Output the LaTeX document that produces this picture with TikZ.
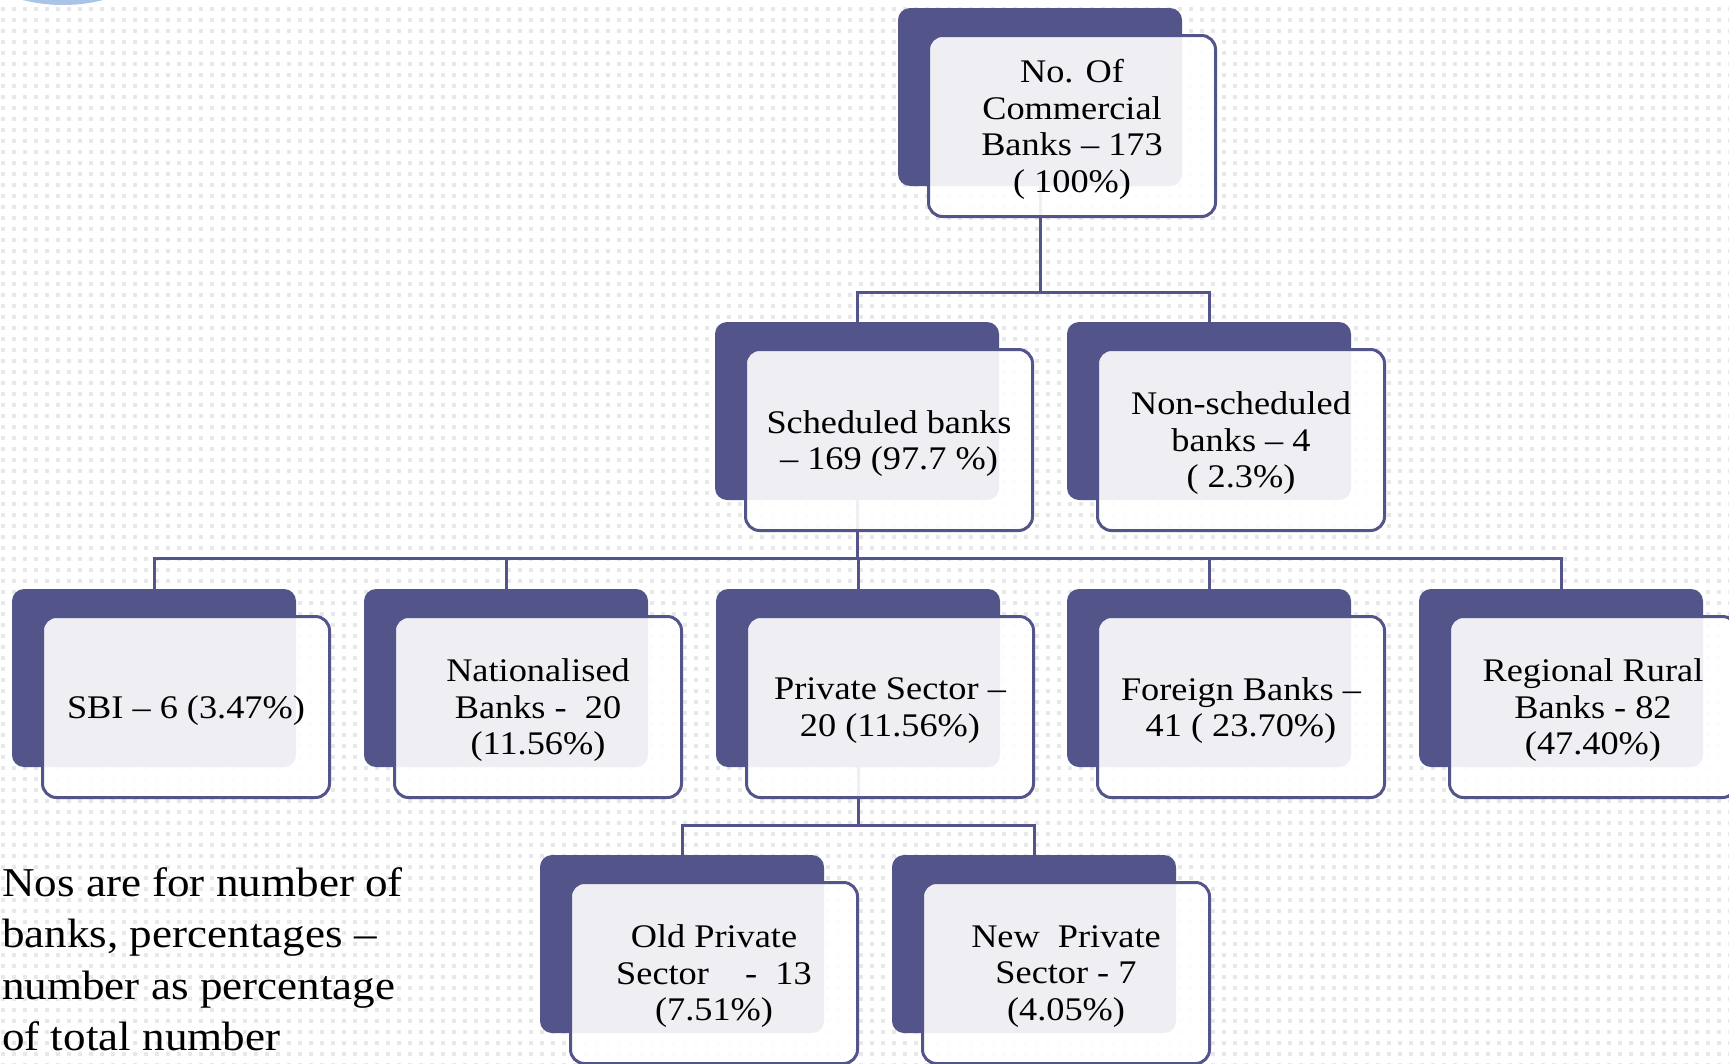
\documentclass[tikz,border=0pt]{standalone}
\usepackage{fontspec}
\setmainfont{Liberation Serif}[FakeStretch=1.1]
\usetikzlibrary{calc}
\definecolor{dk}{RGB}{83,84,138}
\definecolor{dotgray}{RGB}{232,232,232}
\definecolor{orb}{RGB}{170,196,230}
\pgfdeclarelayer{bg}
\pgfsetlayers{bg,main}

% one bank: shaded back plate, the framed card in front of it, and its label
\newcommand\bankbox[4]{%
  \node[backplate] (#1B) at (#2+142,#3+89) {};
  \node[card] (#1F) at (#2+174,#3+118) {};
  \node[cardtext] (#1) at ($(#1F.center)+(0,3.5)$) {#4};}

\begin{document}
\begin{tikzpicture}[x=1pt,y=-1pt,
  backplate/.style={fill=dk, rounded corners=12pt, minimum width=284pt,
    minimum height=178pt, inner sep=0pt},
  card/.style={draw=dk, line width=3pt, fill=white, fill opacity=0.9,
    rounded corners=14pt, minimum width=287pt, minimum height=181pt,
    inner sep=0pt},
  cardtext/.style={align=center, inner sep=0pt,
    font=\fontsize{33}{36.5}\selectfont},
  conn/.style={draw=dk, line width=3pt},
  note/.style={align=left, anchor=north west, inner sep=0pt,
    font=\fontsize{41}{51.5}\selectfont}]

\useasboundingbox (0,0) rectangle (1729,1063);

\begin{pgfonlayer}{bg}
  % dotted paper background
  \fill[white] (0,0) rectangle (1729,1063);
  \foreach \r in {0,...,96}
    \draw[dotgray, line width=4pt, dash pattern=on 4pt off 7pt]
      (1,9+11*\r) -- (1729,9+11*\r);
  % corner ornament
  \fill[orb] (63,-157) circle (162pt);
\end{pgfonlayer}

% level 1
\bankbox{top}{898}{8}{No. Of\\Commercial\\Banks – 173\\( 100\%)}
% level 2
\bankbox{sch}{715}{322}{Scheduled banks\\– 169 (97.7 \%)}
\bankbox{nsch}{1067}{322}{Non-scheduled\\banks – 4\\( 2.3\%)}
% level 3
\bankbox{sbi}{12}{589}{SBI – 6 (3.47\%)}
\bankbox{nat}{364}{589}{Nationalised\\Banks -~ 20\\(11.56\%)}
\bankbox{pvt}{716}{589}{Private Sector –\\20 (11.56\%)}
\bankbox{for}{1067}{589}{Foreign Banks –\\41 ( 23.70\%)}
\bankbox{rrb}{1419}{589}{Regional Rural\\Banks - 82\\(47.40\%)}
% level 4
\bankbox{old}{540}{855}{Old Private\\Sector~~~ -~ 13\\(7.51\%)}
\bankbox{new}{892}{855}{New~ Private\\Sector - 7\\(4.05\%)}

% connectors, drawn behind the cards
\coordinate (busA) at (0,292);
\coordinate (busB) at (0,558);
\coordinate (busC) at (0,825);
\begin{pgfonlayer}{bg}
  \draw[conn] (topB.south) -- (topB.south |- busA);
  \draw[conn] (schB.north) |- (busA -| nschB.north) -- (nschB.north);

  \draw[conn] (schB.south) -- (schB.south |- busB);
  \draw[conn] (sbiB.north) |- (busB -| rrbB.north) -- (rrbB.north);
  \draw[conn] (natB.north) -- (natB.north |- busB);
  \draw[conn] (pvtB.north) -- (pvtB.north |- busB);
  \draw[conn] (forB.north) -- (forB.north |- busB);

  \draw[conn] (pvtB.south) -- (pvtB.south |- busC);
  \draw[conn] (oldB.north) |- (busC -| newB.north) -- (newB.north);
\end{pgfonlayer}

% explanatory note
\node[note] (legend) at (2,867) {Nos are for number of\\banks, percentages –\\number as percentage\\of total number};

\end{tikzpicture}
\end{document}
